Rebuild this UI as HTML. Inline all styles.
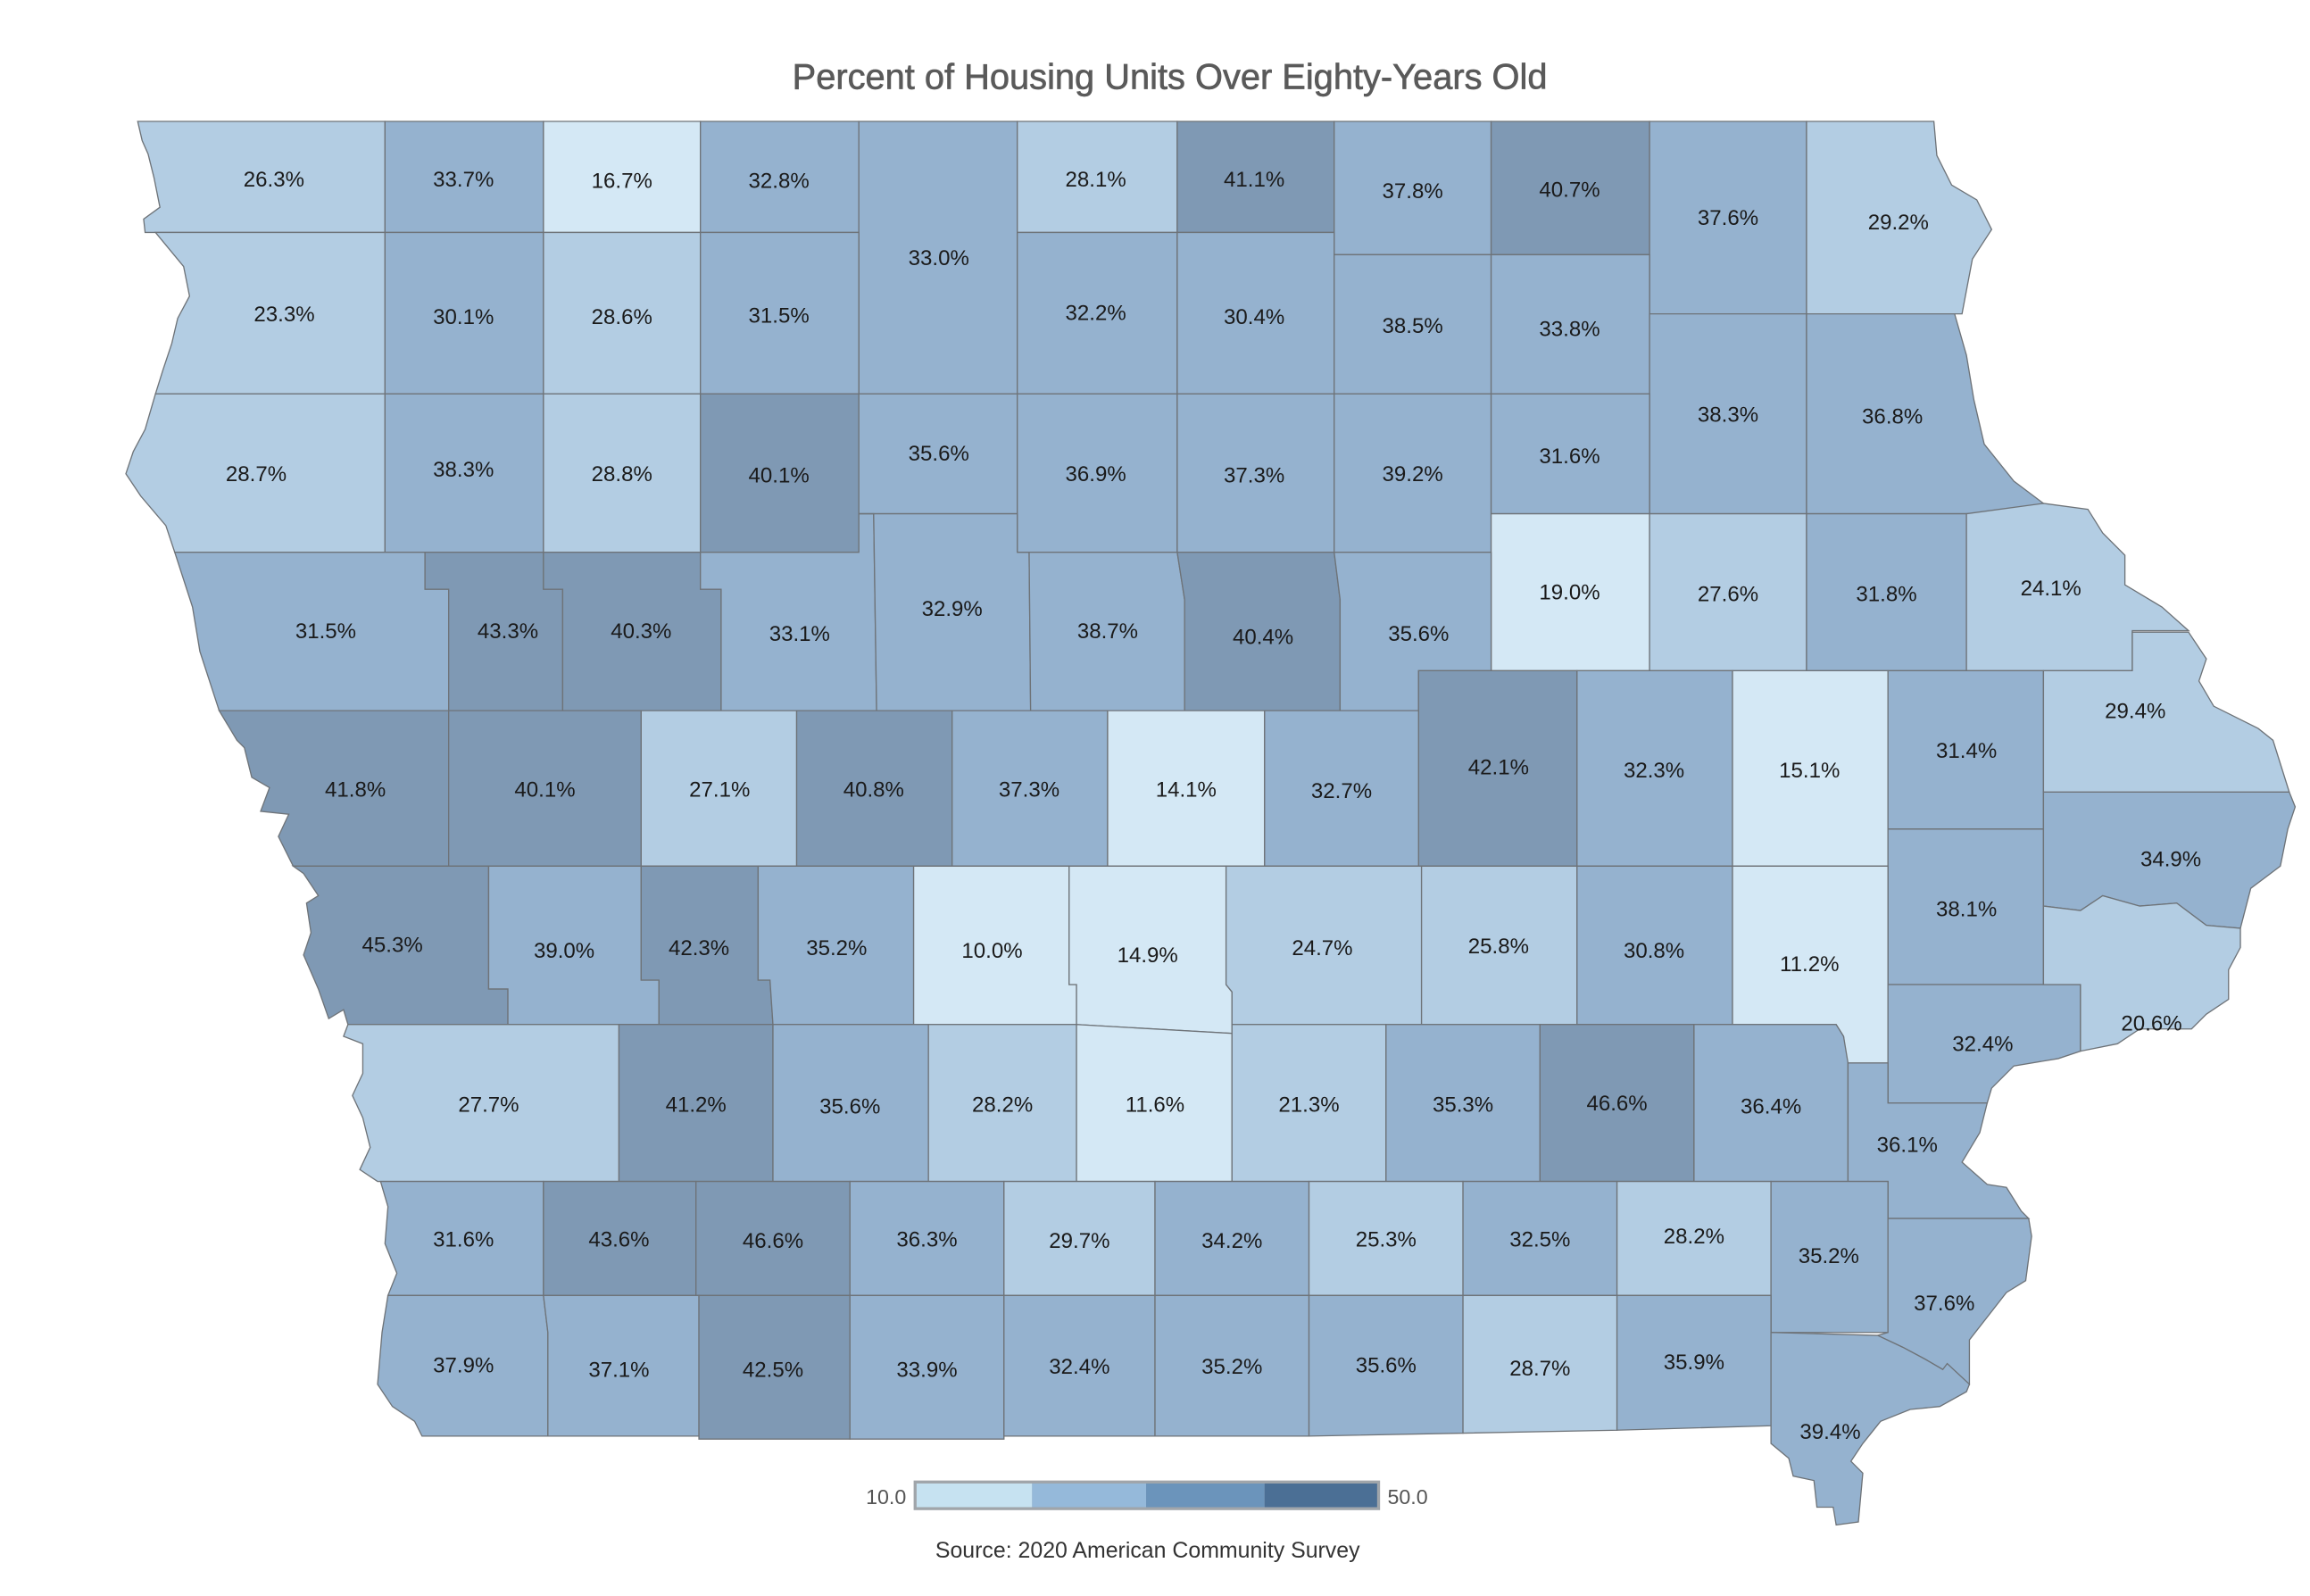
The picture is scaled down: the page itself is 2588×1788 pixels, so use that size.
<!DOCTYPE html>
<html><head><meta charset="utf-8"><style>
html,body{margin:0;padding:0;background:#fff}
svg{display:block}
.a{fill:#d4e8f5}.b{fill:#b3cde3}.c{fill:#95b2cf}.d{fill:#7f99b4}
polygon,rect.m{stroke:#6e7378;stroke-width:0.8}
text.l{font-family:"Liberation Sans",sans-serif;font-size:14.5px;fill:#1a1a1a;text-anchor:middle}
</style></head><body>
<svg width="2588" height="1788" viewBox="0 0 1560 1078" preserveAspectRatio="none">
<text x="790" y="60" font-family="Liberation Sans, sans-serif" font-size="24" fill="#5a5a5a" stroke="#5a5a5a" stroke-width="0.4" text-anchor="middle">Percent of Housing Units Over Eighty-Years Old</text>
<g>
<polygon class="b" points="93,82 260,82 260,157 98,157 97,148 108,140 104,120 100,104 96,95"/>
<polygon class="c" points="260,82 367,82 367,157 260,157"/>
<polygon class="a" points="367,82 473,82 473,157 367,157"/>
<polygon class="c" points="473,82 580,82 580,157 473,157"/>
<polygon class="c" points="580,82 687,82 687,266 580,266"/>
<polygon class="b" points="687,82 795,82 795,157 687,157"/>
<polygon class="d" points="795,82 901,82 901,157 795,157"/>
<polygon class="c" points="901,82 1007,82 1007,172 901,172"/>
<polygon class="d" points="1007,82 1114,82 1114,172 1007,172"/>
<polygon class="c" points="1114,82 1220,82 1220,212 1114,212"/>
<polygon class="b" points="1220,82 1306,82 1308,105 1318,125 1335,135 1345,155 1332,175 1325,212 1220,212"/>
<polygon class="b" points="105,157 260,157 260,266 105,266 110,250 116,232 120,215 128,200 124,180"/>
<polygon class="c" points="260,157 367,157 367,266 260,266"/>
<polygon class="b" points="367,157 473,157 473,266 367,266"/>
<polygon class="c" points="473,157 580,157 580,266 473,266"/>
<polygon class="c" points="687,157 795,157 795,266 687,266"/>
<polygon class="c" points="795,157 901,157 901,266 795,266"/>
<polygon class="c" points="901,172 1007,172 1007,266 901,266"/>
<polygon class="c" points="1007,172 1114,172 1114,266 1007,266"/>
<polygon class="c" points="1114,212 1220,212 1220,347 1114,347"/>
<polygon class="c" points="1220,212 1320,212 1328,240 1333,270 1340,300 1360,325 1380,340 1380,347 1220,347"/>
<polygon class="b" points="105,266 260,266 260,373 118,373 112,355 95,335 85,320 90,305 98,290"/>
<polygon class="c" points="260,266 367,266 367,373 260,373"/>
<polygon class="b" points="367,266 473,266 473,373 367,373"/>
<polygon class="d" points="473,266 580,266 580,373 473,373"/>
<polygon class="c" points="580,266 687,266 687,347 580,347"/>
<polygon class="c" points="687,266 795,266 795,373 687,373"/>
<polygon class="c" points="795,266 901,266 901,373 795,373"/>
<polygon class="c" points="901,266 1007,266 1007,373 901,373"/>
<polygon class="c" points="1007,266 1114,266 1114,347 1007,347"/>
<polygon class="a" points="1007,347 1114,347 1114,453 1007,453"/>
<polygon class="b" points="1114,347 1220,347 1220,453 1114,453"/>
<polygon class="c" points="1220,347 1328,347 1328,453 1220,453"/>
<polygon class="b" points="1328,347 1380,340 1410,344 1420,360 1435,375 1435,395 1460,410 1478,426 1440,426 1440,453 1328,453"/>
<polygon class="c" points="118,373 287,373 287,398 303,398 303,480 148,480 135,440 130,410"/>
<polygon class="d" points="287,373 367,373 367,398 380,398 380,480 303,480 303,398 287,398"/>
<polygon class="d" points="367,373 473,373 473,398 487,398 487,480 380,480 380,398 367,398"/>
<polygon class="c" points="473,373 580,373 580,347 590,347 592,480 487,480 487,398 473,398"/>
<polygon class="c" points="580,347 687,347 687,373 695,373 696,480 592,480 590,347"/>
<polygon class="c" points="687,373 795,373 800,405 800,480 696,480 695,373"/>
<polygon class="d" points="795,373 901,373 905,405 905,480 800,480 800,405"/>
<polygon class="c" points="901,373 1007,373 1007,453 958,453 958,480 905,480 905,405"/>
<polygon class="d" points="958,453 1065,453 1065,585 958,585"/>
<polygon class="c" points="1065,453 1170,453 1170,585 1065,585"/>
<polygon class="a" points="1170,453 1275,453 1275,585 1170,585"/>
<polygon class="c" points="1275,453 1380,453 1380,560 1275,560"/>
<polygon class="b" points="1380,453 1440,453 1440,427 1478,427 1490,445 1485,460 1495,477 1525,492 1535,500 1546,535 1380,535"/>
<polygon class="d" points="148,480 303,480 303,585 198,585 188,565 195,550 176,548 182,532 170,525 165,505 160,500"/>
<polygon class="d" points="303,480 433,480 433,585 303,585"/>
<polygon class="b" points="433,480 538,480 538,585 433,585"/>
<polygon class="d" points="538,480 643,480 643,585 538,585"/>
<polygon class="c" points="643,480 748,480 748,585 643,585"/>
<polygon class="a" points="748,480 854,480 854,585 748,585"/>
<polygon class="c" points="854,480 958,480 958,585 854,585"/>
<polygon class="c" points="1275,560 1380,560 1380,665 1275,665"/>
<polygon class="c" points="1380,535 1546,535 1550,545 1545,560 1540,585 1520,600 1513,627 1490,625 1470,610 1445,612 1420,605 1405,615 1380,612"/>
<polygon class="d" points="198,585 330,585 330,668 343,668 343,692 235,692 232,682 222,688 215,668 205,645 210,630 207,610 215,605 205,590"/>
<polygon class="c" points="330,585 433,585 433,662 445,662 445,692 343,692 343,668 330,668"/>
<polygon class="d" points="433,585 512,585 512,662 520,662 522,692 445,692 445,662 433,662"/>
<polygon class="c" points="512,585 617,585 617,692 522,692 520,662 512,662"/>
<polygon class="a" points="617,585 722,585 722,665 727,665 727,692 627,692 617,692"/>
<polygon class="a" points="722,585 828,585 828,665 832,670 832,698 727,692 727,665 722,665"/>
<polygon class="b" points="828,585 960,585 960,692 832,692 832,670 828,665"/>
<polygon class="b" points="960,585 1065,585 1065,692 960,692"/>
<polygon class="c" points="1065,585 1170,585 1170,692 1065,692"/>
<polygon class="a" points="1170,585 1275,585 1275,718 1247,718 1245,700 1240,692 1170,692"/>
<polygon class="c" points="1275,665 1405,665 1405,710 1390,715 1360,720 1345,735 1342,745 1275,745"/>
<polygon class="b" points="1380,612 1405,615 1420,605 1445,612 1470,610 1490,625 1513,627 1513,640 1505,655 1505,675 1490,685 1480,695 1445,695 1430,705 1405,710 1405,665 1380,665"/>
<polygon class="b" points="235,692 418,692 418,798 255,798 243,790 250,775 245,755 238,740 245,725 245,705 232,700"/>
<polygon class="d" points="418,692 522,692 522,798 418,798"/>
<polygon class="c" points="522,692 627,692 627,798 522,798"/>
<polygon class="b" points="627,692 727,692 727,798 627,798"/>
<polygon class="a" points="727,692 832,698 832,798 727,798"/>
<polygon class="b" points="832,692 936,692 936,798 832,798"/>
<polygon class="c" points="936,692 1040,692 1040,798 936,798"/>
<polygon class="d" points="1040,692 1144,692 1144,798 1040,798"/>
<polygon class="c" points="1144,692 1240,692 1245,700 1248,718 1248,798 1144,798"/>
<polygon class="c" points="1248,718 1275,718 1275,745 1342,745 1337,765 1325,785 1342,800 1355,802 1365,818 1370,823 1275,823 1275,798 1248,798"/>
<polygon class="c" points="257,798 367,798 367,875 262,875 268,860 260,840 262,815"/>
<polygon class="d" points="367,798 470,798 470,875 367,875"/>
<polygon class="d" points="470,798 574,798 574,875 470,875"/>
<polygon class="c" points="574,798 678,798 678,875 574,875"/>
<polygon class="b" points="678,798 780,798 780,875 678,875"/>
<polygon class="c" points="780,798 884,798 884,875 780,875"/>
<polygon class="b" points="884,798 988,798 988,875 884,875"/>
<polygon class="c" points="988,798 1092,798 1092,875 988,875"/>
<polygon class="b" points="1092,798 1196,798 1196,875 1092,875"/>
<polygon class="c" points="1196,798 1275,798 1275,900 1196,900"/>
<polygon class="c" points="1275,823 1370,823 1372,835 1368,865 1355,873 1330,905 1330,935 1312,925 1300,918 1285,910 1268,902 1275,900"/>
<polygon class="c" points="262,875 367,875 370,900 370,970 285,970 280,960 265,950 255,935 258,900"/>
<polygon class="c" points="367,875 472,875 472,970 370,970 370,900"/>
<polygon class="d" points="472,875 574,875 574,972 472,972"/>
<polygon class="c" points="574,875 678,875 678,972 574,972"/>
<polygon class="c" points="678,875 780,875 780,970 678,970"/>
<polygon class="c" points="780,875 884,875 884,970 780,970"/>
<polygon class="c" points="884,875 988,875 988,968 884,970"/>
<polygon class="b" points="988,875 1092,875 1092,966 988,968"/>
<polygon class="c" points="1092,875 1196,875 1196,963 1092,966"/>
<polygon class="c" points="1196,900 1268,902 1285,910 1300,918 1312,925 1315,921 1330,935 1328,940 1310,950 1290,952 1270,960 1258,975 1250,987 1258,995 1255,1028 1240,1030 1238,1018 1227,1018 1225,1000 1211,997 1208,985 1196,975"/>
</g>
<text class="l" x="185" y="126">26.3%</text><text class="l" x="313" y="126">33.7%</text><text class="l" x="420" y="127">16.7%</text><text class="l" x="526" y="127">32.8%</text><text class="l" x="634" y="179">33.0%</text><text class="l" x="740" y="126">28.1%</text><text class="l" x="847" y="126">41.1%</text><text class="l" x="954" y="134">37.8%</text><text class="l" x="1060" y="133">40.7%</text><text class="l" x="1167" y="152">37.6%</text><text class="l" x="1282" y="155">29.2%</text>
<text class="l" x="192" y="217">23.3%</text><text class="l" x="313" y="219">30.1%</text><text class="l" x="420" y="219">28.6%</text><text class="l" x="526" y="218">31.5%</text><text class="l" x="740" y="216">32.2%</text><text class="l" x="847" y="219">30.4%</text><text class="l" x="954" y="225">38.5%</text><text class="l" x="1060" y="227">33.8%</text><text class="l" x="1167" y="285">38.3%</text><text class="l" x="1278" y="286">36.8%</text>
<text class="l" x="173" y="325">28.7%</text><text class="l" x="313" y="322">38.3%</text><text class="l" x="420" y="325">28.8%</text><text class="l" x="526" y="326">40.1%</text><text class="l" x="634" y="311">35.6%</text><text class="l" x="740" y="325">36.9%</text><text class="l" x="847" y="326">37.3%</text><text class="l" x="954" y="325">39.2%</text><text class="l" x="1060" y="313">31.6%</text>
<text class="l" x="1060" y="405">19.0%</text><text class="l" x="1167" y="406">27.6%</text><text class="l" x="1274" y="406">31.8%</text><text class="l" x="1385" y="402">24.1%</text>
<text class="l" x="220" y="431">31.5%</text><text class="l" x="343" y="431">43.3%</text><text class="l" x="433" y="431">40.3%</text><text class="l" x="540" y="433">33.1%</text><text class="l" x="643" y="416">32.9%</text><text class="l" x="748" y="431">38.7%</text><text class="l" x="853" y="435">40.4%</text><text class="l" x="958" y="433">35.6%</text>
<text class="l" x="1012" y="523">42.1%</text><text class="l" x="1117" y="525">32.3%</text><text class="l" x="1222" y="525">15.1%</text><text class="l" x="1328" y="512">31.4%</text><text class="l" x="1442" y="485">29.4%</text>
<text class="l" x="240" y="538">41.8%</text><text class="l" x="368" y="538">40.1%</text><text class="l" x="486" y="538">27.1%</text><text class="l" x="590" y="538">40.8%</text><text class="l" x="695" y="538">37.3%</text><text class="l" x="801" y="538">14.1%</text><text class="l" x="906" y="539">32.7%</text>
<text class="l" x="1328" y="619">38.1%</text><text class="l" x="1466" y="585">34.9%</text>
<text class="l" x="265" y="643">45.3%</text><text class="l" x="381" y="647">39.0%</text><text class="l" x="472" y="645">42.3%</text><text class="l" x="565" y="645">35.2%</text><text class="l" x="670" y="647">10.0%</text><text class="l" x="775" y="650">14.9%</text><text class="l" x="893" y="645">24.7%</text><text class="l" x="1012" y="644">25.8%</text><text class="l" x="1117" y="647">30.8%</text><text class="l" x="1222" y="656">11.2%</text><text class="l" x="1453" y="696">20.6%</text><text class="l" x="1339" y="710">32.4%</text>
<text class="l" x="330" y="751">27.7%</text><text class="l" x="470" y="751">41.2%</text><text class="l" x="574" y="752">35.6%</text><text class="l" x="677" y="751">28.2%</text><text class="l" x="780" y="751">11.6%</text><text class="l" x="884" y="751">21.3%</text><text class="l" x="988" y="751">35.3%</text><text class="l" x="1092" y="750">46.6%</text><text class="l" x="1196" y="752">36.4%</text><text class="l" x="1288" y="778">36.1%</text>
<text class="l" x="313" y="842">31.6%</text><text class="l" x="418" y="842">43.6%</text><text class="l" x="522" y="843">46.6%</text><text class="l" x="626" y="842">36.3%</text><text class="l" x="729" y="843">29.7%</text><text class="l" x="832" y="843">34.2%</text><text class="l" x="936" y="842">25.3%</text><text class="l" x="1040" y="842">32.5%</text><text class="l" x="1144" y="840">28.2%</text><text class="l" x="1235" y="853">35.2%</text><text class="l" x="1313" y="885">37.6%</text>
<text class="l" x="313" y="927">37.9%</text><text class="l" x="418" y="930">37.1%</text><text class="l" x="522" y="930">42.5%</text><text class="l" x="626" y="930">33.9%</text><text class="l" x="729" y="928">32.4%</text><text class="l" x="832" y="928">35.2%</text><text class="l" x="936" y="927">35.6%</text><text class="l" x="1040" y="929">28.7%</text><text class="l" x="1144" y="925">35.9%</text><text class="l" x="1236" y="972">39.4%</text>
<text x="612" y="1016" font-family="Liberation Sans, sans-serif" font-size="14" fill="#555" text-anchor="end">10.0</text>
<rect x="617" y="1000" width="315" height="20" fill="#a0a5aa"/>
<rect x="619" y="1002" width="78" height="16" fill="#c6e2f1"/>
<rect x="697" y="1002" width="77" height="16" fill="#95b9da"/>
<rect x="774" y="1002" width="80" height="16" fill="#6b94bb"/>
<rect x="854" y="1002" width="76" height="16" fill="#4b6f95"/>
<text x="937" y="1016" font-family="Liberation Sans, sans-serif" font-size="14" fill="#555">50.0</text>
<text x="775" y="1052" font-family="Liberation Sans, sans-serif" font-size="15" fill="#333" text-anchor="middle">Source: 2020 American Community Survey</text>
</svg>
</body></html>
